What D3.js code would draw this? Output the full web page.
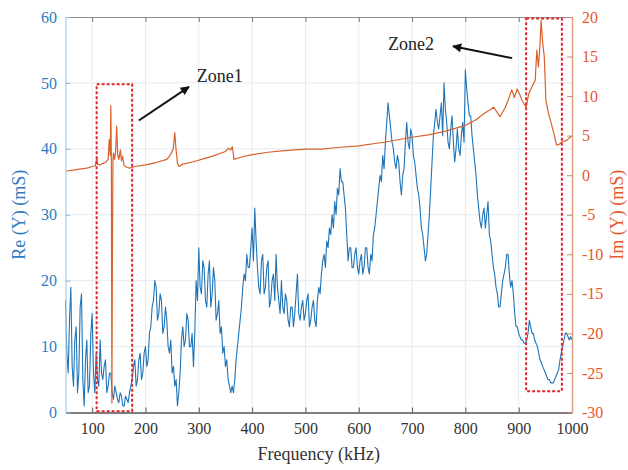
<!DOCTYPE html>
<html>
<head>
<meta charset="utf-8">
<script src="https://cdn.jsdelivr.net/npm/d3@7/dist/d3.min.js"></script>
<style>
  html, body { margin: 0; padding: 0; background: #fff; }
  svg { display: block; }
  text { font-family: "Liberation Serif", "DejaVu Serif", serif; }
</style>
</head>
<body>
<svg id="chart" width="628" height="470"></svg>
<script>
// ---------------- data ----------------
const freqStart = 50, freqStep = 2.5;   // Re(Y) sampled every 2.5 kHz from 50 to 1000 kHz
const reValues = [
  17, 9, 6, 14, 19, 7, 4, 11, 13, 3, 6, 16, 18, 5, 1, 8, 11, 3, 4, 12,                // 50-97.5
  15, 6, 3, 9, 5, 4, 11, 6, 5, 7, 8, 3, 4, 6, 6, 3, 2, 4, 3, 2,                       // 100-147.5
  1.5, 3, 2.5, 1, 1, 2.5, 2, 1.5, 3, 4, 5, 7, 8, 4, 5, 8, 9, 5, 6, 9,                 // 150-197.5
  10, 7, 8, 12, 13, 16, 17, 20, 19, 14, 15, 18, 17, 12, 13, 16, 14, 10, 9, 11,        // 200-247.5
  6, 7, 4, 5, 1, 3, 6, 11, 13, 10, 11, 15, 14, 10, 10, 12, 7, 12, 20, 17,             // 250-297.5
  25, 19, 18, 23, 22, 17, 16, 21, 23, 16, 18, 22, 20, 14, 15, 17, 12, 13, 9, 10,      // 300-347.5
  7, 8, 5, 4, 3, 4, 3, 5, 8, 10, 12, 14, 16, 19, 21, 20, 24, 22, 22, 25,              // 350-397.5
  28, 23, 31, 26, 22, 19, 18, 23, 24, 18, 19, 22, 23, 16, 17, 20, 21, 17, 24, 19,     // 400-447.5
  17, 15, 20, 16, 15, 18, 17, 14, 13, 16, 16, 13, 15, 18, 21, 15, 14, 16, 17, 14,     // 450-497.5
  15, 17, 18, 13, 14, 16, 17, 14, 13, 17, 19, 18, 21, 23, 24, 22, 26, 25, 28, 27,     // 500-547.5
  30, 28, 32, 30, 34, 33, 37, 35, 35, 33, 31, 27, 23, 25, 25, 22, 22, 24, 25, 22,     // 550-597.5
  21, 23, 24, 21, 22, 25, 25, 22, 21, 24, 23, 27, 28, 30, 32, 34, 36, 35, 39, 37,     // 600-647.5
  41, 44, 47, 45, 43, 41, 40, 38, 37, 39, 38, 35, 33, 36, 37, 41, 44, 41, 40, 43,     // 650-697.5
  42, 39, 38, 36, 34, 33, 31, 28, 27, 25, 23, 24, 27, 30, 34, 38, 42, 44, 46, 44,     // 700-747.5
  43, 45, 47, 42, 50, 46, 44, 41, 40, 43, 45, 41, 38, 40, 43, 40, 39, 42, 44, 41,     // 750-797.5
  52, 49, 47, 45, 45, 42, 40, 38, 36, 33, 31, 29, 28, 30, 31, 28, 30, 32, 27, 26,     // 800-847.5
  24, 22, 21, 19, 18, 16, 16, 18, 20, 21, 22, 24, 24, 21, 19, 20, 18, 15, 13, 13,     // 850-897.5
  12, 11.5, 11, 11, 10.5, 10.5, 11, 12, 14, 13, 12, 12, 11, 10.5, 10, 9, 8, 7.5, 7, 6.5, // 900-947.5
  6, 5.5, 5, 5, 4.5, 4.5, 4.5, 5, 5.5, 6, 6.5, 8, 9, 10, 11, 12, 12, 11.5, 11, 11.5,  // 950-997.5
  11                                                                                   // 1000
];
const reFreq = reValues.map((v, i) => freqStart + i * freqStep);

const imFreq = [50, 70, 90, 100, 106, 108, 109, 110, 115, 120, 125, 130, 132, 134, 135, 136, 137, 138, 139, 140,
  142, 144, 146, 148, 150, 153, 155, 157, 160, 165, 170, 180, 200, 220, 240, 248, 252, 255, 257, 260,
  263, 270, 290, 310, 330, 350, 355, 360, 363, 366, 380, 400, 430, 460, 500, 530, 560, 600, 650, 700,
  730, 760, 800, 820, 835, 845, 853, 860, 865, 870, 875, 882, 887, 892, 897, 902, 906, 910, 914, 919,
  925, 931, 934, 937, 940, 942, 945, 948, 951, 956, 962, 967, 971, 976, 981, 990, 1000];
const imValues = [0.5, 0.7, 0.9, 1.1, 1.2, 1.9, 2.2, 1.4, 1.3, 1.5, 1.6, 2.0, 4.5, 2.5, 8.8, 1.5, -28.8, -10, 2.0, 2.8,
  2.0, 3.0, 6.2, 2.5, 2.0, 3.2, 1.8, 2.4, 1.2, 1.0, 0.9, 1.1, 1.3, 1.6, 2.0, 2.7, 3.3, 5.4, 3.5, 1.5,
  1.1, 1.4, 1.7, 2.1, 2.5, 3.0, 3.4, 3.2, 3.6, 2.0, 2.3, 2.6, 2.9, 3.1, 3.3, 3.3, 3.5, 3.7, 4.2, 4.8,
  5.1, 5.5, 6.3, 7.0, 7.8, 8.2, 8.6, 7.9, 7.4, 8.0, 8.6, 9.8, 10.8, 9.8, 10.9, 10.2, 9.5, 9.0, 8.6, 10.3,
  11.2, 12.0, 15.8, 13.7, 16.5, 19.6, 16.7, 15.0, 9.5, 7.8, 6.3, 5.0, 3.8, 3.9, 4.2, 4.4, 5.0];

const xTicks = [100, 200, 300, 400, 500, 600, 700, 800, 900, 1000];
const reTicks = [0, 10, 20, 30, 40, 50, 60];
const imTicks = [-30, -25, -20, -15, -10, -5, 0, 5, 10, 15, 20];

// annotations (data coordinates)
const zone1Box = [108.4, 175, 0.2, 49.8];      // f0, f1, Re0, Re1
const zone2Box = [914, 981, -27.3, 19.8];      // f0, f1, Im0, Im1
const zone1Arrow = [187.5, 44.3, 281.6, 49.4]; // Re axis
const zone2Arrow = [887.8, 14.8, 776.8, 16.3]; // Im axis
const zone1Label = ["Zone1", 296, 50.1];
const zone2Label = ["Zone2", 655, 15.8];

// ---------------- chart ----------------
const svg = d3.select("#chart");
const pL = 65.5, pR = 572, pT = 17, pB = 412.5;
const x = d3.scaleLinear().domain([50, 1000]).range([pL, pR]);
const yL = d3.scaleLinear().domain([0, 60]).range([pB, pT]);
const yR = d3.scaleLinear().domain([-30, 20]).range([pB, pT]);

const blue = "#1f74b8", orange = "#d9622b";
const blueText = "#2b7cc2", orangeText = "#e8572a";

// grid
const grid = svg.append("g");
grid.selectAll("line.v").data(xTicks.filter(d => d < 1000)).join("line")
  .attr("class", "v")
  .attr("x1", d => x(d)).attr("x2", d => x(d)).attr("y1", pT).attr("y2", pB)
  .attr("stroke", "#e4ebf1").attr("stroke-width", 1);
grid.selectAll("line.h").data(reTicks.filter(d => d > 0 && d < 60)).join("line")
  .attr("class", "h")
  .attr("x1", pL).attr("x2", pR).attr("y1", d => yL(d)).attr("y2", d => yL(d))
  .attr("stroke", "#e4ebf1").attr("stroke-width", 1);

// lines
const lineRe = d3.line().x((d, i) => x(reFreq[i])).y(d => yL(d));
svg.append("path").datum(reValues).attr("d", lineRe)
  .attr("fill", "none").attr("stroke", blue).attr("stroke-width", 1.1).attr("stroke-linejoin", "round");

const lineIm = d3.line().x((d, i) => x(imFreq[i])).y(d => yR(d));
svg.append("path").datum(imValues).attr("d", lineIm)
  .attr("fill", "none").attr("stroke", orange).attr("stroke-width", 1.2).attr("stroke-linejoin", "round");

// axes
const fmt = d => String(d);
const gTop = svg.append("g").attr("transform", `translate(0,${pT})`)
  .call(d3.axisTop(x).tickValues(xTicks).tickSizeInner(-5).tickSizeOuter(0).tickFormat(""));
gTop.select(".domain").attr("stroke", "#8f8f8f");
gTop.selectAll(".tick line").attr("stroke", "#777");

const gBot = svg.append("g").attr("transform", `translate(0,${pB})`)
  .call(d3.axisBottom(x).tickValues(xTicks).tickSizeInner(-5).tickSizeOuter(0).tickPadding(10).tickFormat(fmt));
gBot.select(".domain").attr("stroke", "#555").attr("stroke-width", 1.6);
gBot.selectAll(".tick line").attr("stroke", "#555");
gBot.selectAll(".tick text").attr("font-size", 16).attr("fill", "#333")
  .attr("font-family", "Liberation Serif, serif");

const gL = svg.append("g").attr("transform", `translate(${pL},0)`)
  .call(d3.axisLeft(yL).tickValues(reTicks).tickSizeInner(-5).tickSizeOuter(0).tickPadding(8.5).tickFormat(fmt));
gL.select(".domain").attr("stroke", "#a9cde3").attr("stroke-width", 1.2);
gL.selectAll(".tick line").attr("stroke", "#8fbbd8");
gL.selectAll(".tick text").attr("font-size", 16).attr("fill", blueText)
  .attr("font-family", "Liberation Serif, serif");

const gR = svg.append("g").attr("transform", `translate(${pR},0)`)
  .call(d3.axisRight(yR).tickValues(imTicks).tickSizeInner(-5).tickSizeOuter(0).tickPadding(10).tickFormat(fmt));
gR.select(".domain").attr("stroke", "#dca27f").attr("stroke-width", 1.5);
gR.selectAll(".tick line").attr("stroke", "#d08a60");
gR.selectAll(".tick text").attr("font-size", 16).attr("fill", orangeText)
  .attr("font-family", "Liberation Serif, serif");

// axis titles
svg.append("text").attr("x", (pL + pR) / 2).attr("y", 460).attr("text-anchor", "middle")
  .attr("font-size", 18).attr("fill", "#333").text("Frequency (kHz)");
svg.append("text").attr("transform", `translate(25,${(pT + pB) / 2}) rotate(-90)`)
  .attr("text-anchor", "middle").attr("font-size", 18).attr("fill", blueText).text("Re (Y) (mS)");
svg.append("text").attr("transform", `translate(623,${(pT + pB) / 2}) rotate(-90)`)
  .attr("text-anchor", "middle").attr("font-size", 18).attr("fill", orangeText).text("Im (Y) (mS)");

// zone boxes
svg.append("rect")
  .attr("x", x(zone1Box[0])).attr("y", yL(zone1Box[3]))
  .attr("width", x(zone1Box[1]) - x(zone1Box[0])).attr("height", yL(zone1Box[2]) - yL(zone1Box[3]))
  .attr("fill", "none").attr("stroke", "#e0252b").attr("stroke-width", 2).attr("stroke-dasharray", "3,2");
svg.append("rect")
  .attr("x", x(zone2Box[0])).attr("y", yR(zone2Box[3]))
  .attr("width", x(zone2Box[1]) - x(zone2Box[0])).attr("height", yR(zone2Box[2]) - yR(zone2Box[3]))
  .attr("fill", "none").attr("stroke", "#e0252b").attr("stroke-width", 2).attr("stroke-dasharray", "3,2");

// arrows
svg.append("defs").append("marker").attr("id", "ah")
  .attr("viewBox", "0 0 10 10").attr("refX", 9).attr("refY", 5)
  .attr("markerWidth", 13).attr("markerHeight", 9).attr("markerUnits", "userSpaceOnUse")
  .attr("orient", "auto")
  .append("path").attr("d", "M0,0 L10,5 L0,10 Z").attr("fill", "#111");
svg.append("line")
  .attr("x1", x(zone1Arrow[0])).attr("y1", yL(zone1Arrow[1]))
  .attr("x2", x(zone1Arrow[2])).attr("y2", yL(zone1Arrow[3]))
  .attr("stroke", "#111").attr("stroke-width", 2).attr("marker-end", "url(#ah)");
svg.append("line")
  .attr("x1", x(zone2Arrow[0])).attr("y1", yR(zone2Arrow[1]))
  .attr("x2", x(zone2Arrow[2])).attr("y2", yR(zone2Arrow[3]))
  .attr("stroke", "#111").attr("stroke-width", 2).attr("marker-end", "url(#ah)");

svg.append("text").attr("x", x(zone1Label[1])).attr("y", yL(zone1Label[2]))
  .attr("font-size", 18).attr("fill", "#222").text(zone1Label[0]);
svg.append("text").attr("x", x(zone2Label[1])).attr("y", yR(zone2Label[2]))
  .attr("font-size", 18).attr("fill", "#222").text(zone2Label[0]);
</script>
</body>
</html>
